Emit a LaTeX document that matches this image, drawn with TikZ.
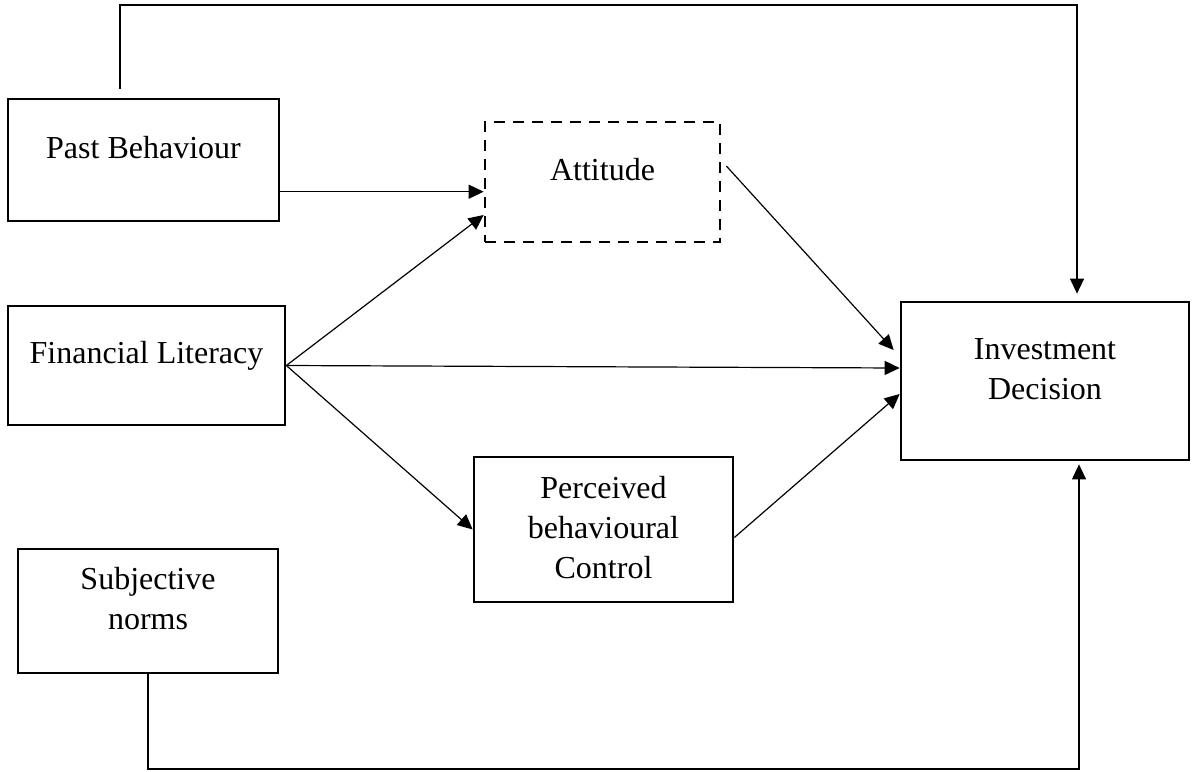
\documentclass[tikz,border=0pt]{standalone}
\usepackage{fontspec}
\setmainfont{Liberation Serif}
\usetikzlibrary{arrows.meta}
\begin{document}
\begin{tikzpicture}[x=0.5pt,y=-0.5pt]
\tikzset{box/.style={draw,line width=1.35pt,inner sep=0pt}}
\tikzset{lbl/.style={align=center,inner sep=0pt,font=\fontsize{16pt}{20pt}\selectfont}}
\tikzset{arr/.style={line width=0.6pt,-{Triangle[length=7.5pt,width=7pt]}}}
\useasboundingbox (0,0) rectangle (1192,771);
%boxes
\node[box,minimum width=135.5pt,minimum height=61pt] (past) at (143.5,160) {};
\node[box,dash pattern=on 5.5pt off 4pt,minimum width=117.5pt,minimum height=60pt] (att) at (602.5,182) {};
\node[box,minimum width=138.5pt,minimum height=59.5pt] (fin) at (146.5,365.5) {};
\node[box,minimum width=144pt,minimum height=79pt] (inv) at (1045,381) {};
\node[box,minimum width=129.5pt,minimum height=72.5pt] (pbc) at (603.5,529.5) {};
\node[box,minimum width=130pt,minimum height=62pt] (norms) at (148,611) {};
%labels
\node[lbl] at ([yshift=6pt]past) {Past Behaviour};
\node[lbl] at ([yshift=6pt]att) {Attitude};
\node[lbl] at ([yshift=5pt]fin) {Financial Literacy};
\node[lbl] at ([yshift=6pt]inv) {Investment\\Decision};
\node[lbl] at ([yshift=1pt]pbc) {Perceived\\behavioural\\Control};
\node[lbl] at ([yshift=6pt]norms) {Subjective\\norms};
%direct paths
\coordinate (pastout) at ([yshift=-15.85pt]past.east);
\draw[arr] (pastout) -- (pastout -| att.west);
\draw[arr] (fin.east) -- ([yshift=-16.5pt]att.west);
\draw[arr] (fin.east) -- ([yshift=6.5pt]inv.west);
\draw[arr] (fin.east) -- (pbc.west);
\draw[arr] ([shift={(2.5pt,8pt)}]att.east) -- ([shift={(-3pt,15.5pt)}]inv.west);
\draw[arr] ([yshift=-4pt]pbc.east) -- ([yshift=-6.5pt]inv.west);
%top and bottom loops
\coordinate (topline) at (0,5);
\coordinate (bottomline) at (0,769);
\coordinate (pastup) at ([shift={(-11.75pt,4.5pt)}]past.north);
\coordinate (invup) at ([shift={(16pt,3.5pt)}]inv.north);
\coordinate (invdown) at ([shift={(17pt,-1.5pt)}]inv.south);
\draw[arr] (pastup) |- (invup |- topline) -- (invup);
\draw[arr] (norms.south) |- (invdown |- bottomline) -- (invdown);
\end{tikzpicture}
\end{document}
